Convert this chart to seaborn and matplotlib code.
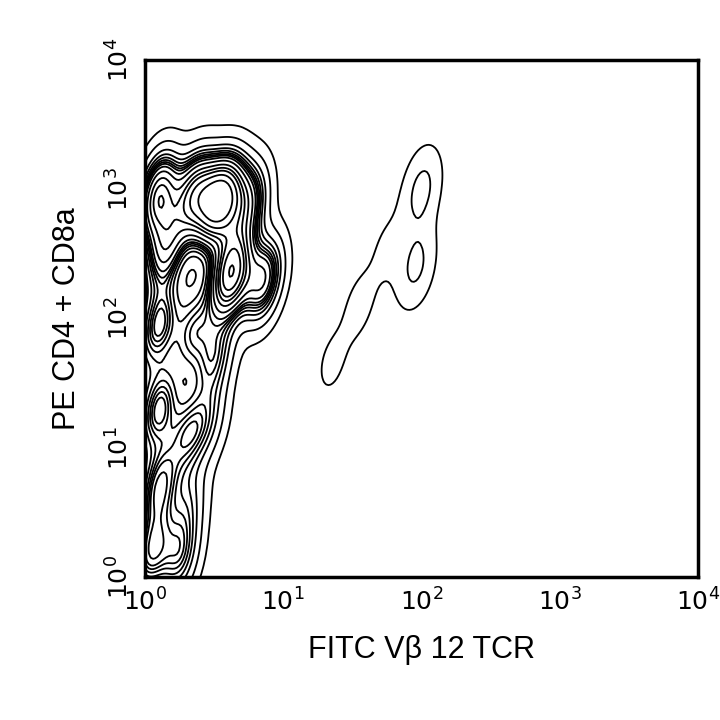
import matplotlib
matplotlib.use("Agg")
import matplotlib.pyplot as plt
import seaborn as sns
import pandas as pd

# event clusters in log10 units (FITC, PE) with relative weights
log_fitc = [0.10, 0.35, 0.60, 0.75, 0.50, 0.62, 0.15, 0.85, 0.10, 0.35, 0.50,
            0.10, 0.30, 0.45, 0.10, 0.30, 0.05, 0.25, 2.00, 1.96, 1.75, 1.55, 1.35]
log_pe = [2.95, 2.95, 2.93, 2.88, 2.90, 2.35, 2.55, 2.30, 1.95, 1.90, 1.70,
          1.30, 1.10, 1.20, 0.70, 0.55, 0.20, 0.15, 3.00, 2.40, 2.55, 2.10, 1.65]
weight = [7, 7, 6, 4, 8, 10, 5, 5, 4, 3, 3,
          4, 3, 2, 4, 2, 4, 3, 1.4, 1.3, 0.5, 0.6, 0.55]

df = pd.DataFrame({"x": log_fitc, "y": log_pe, "w": weight})

sns.set_theme(style="white")
plt.rcParams["font.family"] = ["Liberation Sans", "DejaVu Sans"]

fig = plt.figure(figsize=(7.2, 7.2), dpi=100)
ax = fig.add_axes([145 / 720, 1 - 577 / 720, 553 / 720, 517 / 720])
sns.kdeplot(data=df, x="x", y="y", weights="w", bw_adjust=0.38,
            levels=16, thresh=0.03, color="black", linewidths=1.3, ax=ax,
            gridsize=200, cut=4)

ax.set_xlim(0, 4)
ax.set_ylim(0, 4)
ticks = [0, 1, 2, 3, 4]
ax.set_xticks(ticks)
ax.set_yticks(ticks)
ax.set_xticklabels([f"$10^{k}$" for k in ticks], fontsize=18, color="black")
ax.set_yticklabels([f"$10^{k}$" for k in ticks], fontsize=18, rotation=90,
                   va="center", color="black")
ax.tick_params(length=0, pad=8)
for s in ax.spines.values():
    s.set_linewidth(2.5)
    s.set_color("black")
ax.set_xlabel("FITC V\u03b2 12 TCR", fontsize=22, labelpad=14, color="black")
ax.set_ylabel("PE CD4 + CD8a", fontsize=22, labelpad=18, color="black")

fig.savefig("out.png", dpi=100)
